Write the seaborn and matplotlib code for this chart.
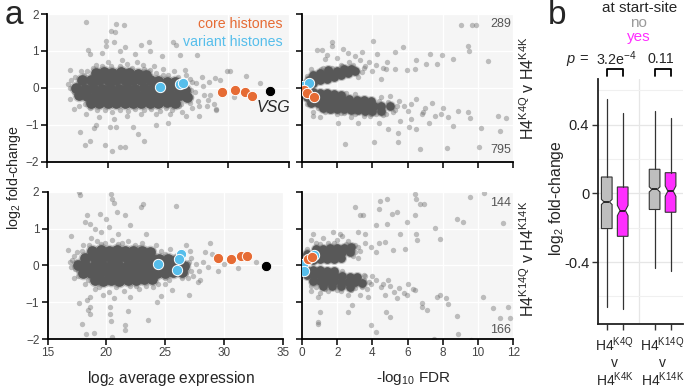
import matplotlib
matplotlib.use("Agg")
import matplotlib.pyplot as plt
import numpy as np
import pandas as pd
import seaborn as sns

# ------------------------------------------------------------------ data
# Panel a, top-left: MA plot, H4K4Q v H4K4K  (x = log2 avg expression, y = log2 FC)
ma1_core = [(19.0,0.4),(19.7,0.42),(20.4,0.4),(21.1,0.42),(21.8,0.4),(22.5,0.38),(23.2,0.36),
            (17.9,0.2),(18.6,0.22),(19.3,0.2),(20.0,0.22),(20.7,0.2),(21.4,0.22),(22.1,0.2),(22.8,0.2),
            (23.5,0.2),(24.2,0.18),(24.9,0.16),(25.6,0.15),
            (17.4,0.0),(18.1,-0.02),(18.8,0.0),(19.5,-0.02),(20.2,0.0),(20.9,-0.02),(21.6,0.0),(22.3,-0.02),
            (23.0,0.0),(23.7,-0.02),(24.4,0.0),(25.1,-0.02),(25.8,0.0),(26.4,-0.05),
            (17.6,-0.2),(18.3,-0.22),(19.0,-0.2),(19.7,-0.22),(20.4,-0.2),(21.1,-0.22),(21.8,-0.2),(22.5,-0.22),
            (23.2,-0.2),(23.9,-0.22),(24.6,-0.2),(25.3,-0.22),(26.0,-0.2),(26.6,-0.25),
            (18.6,-0.4),(19.3,-0.42),(20.0,-0.4),(20.7,-0.42),(21.4,-0.4),(22.1,-0.42),(22.8,-0.4),(23.5,-0.42),
            (24.2,-0.4),(24.9,-0.38),(25.6,-0.4)]
ma1_pts = [(26.8,0.25),(27.2,-0.1),(27.5,-0.35),(27.9,0.05),(28.2,-0.5),(28.5,-0.2),(28.8,-0.45),(27.0,-0.55),
           (26.5,0.35),(27.8,0.3),(28.4,0.15),(29.0,-0.6),(26.2,-0.65),(25.5,0.45),(24.6,0.5),(23.8,0.6),
           (22.4,0.7),(21.2,0.75),(20.0,0.7),(18.8,0.55),(17.8,0.45),(17.0,0.2),(16.9,0.47),(16.7,0.1),
           (16.9,-0.3),(17.2,-0.57),(17.6,-0.5),(18.2,-0.7),(19.3,-0.8),(20.5,-0.85),(21.6,-0.75),(22.8,-0.7),
           (24.0,-0.7),(25.2,-0.72),(26.5,-0.75),(27.6,-0.75),(28.3,-0.34),(29.0,-0.57),(29.3,0.2),(28.9,0.26),
           (29.86,0.45),(30.1,0.45),(31.5,0.31),(32.6,0.13),(26.4,0.47),(30.5,-0.25),(29.6,-0.1),
           (19.5,0.6),(21.0,0.6),(22.0,0.55),(23.0,0.5),(24.0,0.4),(25.0,0.35),(18.0,0.35),(18.5,-0.55),
           (19.8,-0.6),(21.0,-0.6),(22.3,-0.58),(23.6,-0.58),(24.8,-0.55),(25.9,-0.5),(26.8,-0.4),(27.3,0.12),
           (26.9,-0.05),
           (17.3,0.3),(18.3,0.45),(19.0,0.62),(20.3,0.58),(21.6,0.65),(22.9,0.62),(23.5,0.48),(24.6,0.35),
           (25.8,0.3),(26.2,0.1),(26.9,-0.25),(26.1,-0.45),(25.3,-0.6),(24.3,-0.62),(23.0,-0.6),(21.7,-0.62),
           (20.4,-0.65),(19.1,-0.6),(18.1,-0.45),(17.2,-0.12),(16.9,0.0),(27.6,-0.5),(28.0,-0.2),(27.0,0.15),
           (18.2,1.78),(20.69,1.72),(21.35,1.69),(20.28,1.53),(20.6,1.5),(18.4,1.03),(18.5,0.92),(19.9,1.28),
           (19.9,1.12),(23.4,1.24),(25.4,1.24),(25.7,1.15),(27.4,0.90),(22.3,0.92),(21.4,1.1),(17.7,-1.2),
           (18.1,-1.54),(18.5,-1.43),(19.8,-1.54),(20.4,-1.70),(21.0,-1.59),(21.4,-1.59),(23.0,-1.45),
           (20.7,-1.07),(22.1,-1.07),(20.2,-1.05),(19.0,-1.0),(23.5,1.0),(21.0,1.0),(24.5,0.85),(26.0,0.9),
           (19.5,0.95),(22.8,1.15),(20.5,1.25),(18.9,-1.1),(24.0,-1.0),(25.0,-0.95),(22.5,-1.25)]
ma1_core_hist = [(29.44,-0.10),(30.54,-0.05),(31.42,-0.10),(31.92,-0.22)]
ma1_var_hist = [(24.34,0.01),(25.99,0.11),(26.27,0.14)]
ma1_vsg = [(33.49,-0.08)]

# Panel a, top-right: volcano, H4K4Q v H4K4K (x = -log10 FDR)
v1_core = [(0.2,0.1),(0.4,0.22),(0.6,0.12),(0.8,0.3),(1.0,0.2),(1.2,0.35),(1.4,0.25),(1.6,0.4),(1.8,0.3),
           (2.0,0.45),(2.2,0.35),(2.4,0.5),(2.6,0.4),(2.8,0.52),(3.0,0.45),(0.6,0.34),(1.0,0.4),(1.5,0.47),
           (0.2,-0.12),(0.6,-0.12),(1.0,-0.14),(1.4,-0.15),(1.8,-0.17),(2.2,-0.19),
           (0.3,-0.25),(0.7,-0.26),(1.1,-0.27),(1.5,-0.28),(1.9,-0.29),(2.3,-0.3),(2.7,-0.3),(3.1,-0.32),
           (3.5,-0.33),(3.9,-0.35),
           (0.5,-0.4),(0.9,-0.4),(1.3,-0.42),(1.7,-0.42),(2.1,-0.43),(2.5,-0.44),(2.9,-0.45),(3.3,-0.46),
           (3.7,-0.47),(4.1,-0.48),(4.5,-0.48),(5.0,-0.5),
           (1.2,-0.55),(1.6,-0.56),(2.0,-0.57),(2.4,-0.58),(2.8,-0.6),(3.2,-0.6),(3.6,-0.62),(4.0,-0.62),
           (4.5,-0.62)]
v1_pts = [(5.5,-0.35),(5.8,-0.5),(6.2,-0.45),(6.0,-0.62),(5.3,-0.6),(4.8,-0.7),(4.2,-0.72),(3.5,-0.75),
          (2.8,-0.78),(2.0,-0.72),(1.3,-0.65),(0.64,-0.75),(0.64,-0.65),(6.5,-0.3),(7.0,-0.55),(7.4,-0.42),
          (6.8,-0.7),(1.0,-0.8),(4.5,-0.25),(5.0,-0.22),(3.0,-0.62),(2.2,-0.68),
          (3.5,0.55),(3.8,0.7),(4.2,0.62),(4.6,0.55),(3.3,0.75),(2.7,0.7),(2.2,0.62),(1.7,0.55),(4.0,0.45),
          (4.8,0.5),(5.3,0.52),(5.95,0.47),(4.5,0.25),(3.2,0.3),(0.5,0.5),(1.2,0.55),(2.0,0.8),(1.3,0.78),
          (3.4,0.42),(3.6,0.6),(2.9,0.62),(2.3,0.6),(1.1,0.5),(0.3,0.32),(4.4,-0.35),(4.9,-0.38),(5.4,-0.48),
          (5.2,-0.65),(4.6,-0.73),(3.9,-0.72),(3.0,-0.72),(2.4,-0.68),(1.7,-0.62),(0.9,-0.55),(0.3,-0.45),
          (3.0,-0.18),(2.5,-0.15),
          (1.69,1.25),(1.69,1.14),(2.35,1.06),(1.12,1.02),(0.85,1.02),(4.05,1.27),(3.39,0.97),(4.24,0.93),
          (4.81,0.70),(5.28,0.97),(5.76,1.11),(6.42,0.52),(7.08,0.65),(7.27,0.93),(7.65,0.65),(7.94,0.88),
          (9.07,1.70),(9.64,1.70),(9.89,1.70),(9.45,1.14),(9.49,0.99),(10.59,0.72),(8.6,0.79),(6.5,0.75),
          (3.0,0.85),(2.6,0.95),(1.4,0.9),
          (2.44,-1.51),(4.09,-1.48),(5.44,-1.48),(6.7,-1.65),(8.26,-1.64),(10.08,-1.59),(11.25,-1.18),
          (10.17,-1.10),(11.63,-0.82),(11.12,-0.75),(9.58,-0.82),(9.45,-0.65),(8.88,-0.62),(8.6,-1.03),
          (8.31,-0.8),(7.56,-0.75),(6.89,-0.66),(6.5,-1.12),(6.1,-1.05),(4.9,-1.12),(5.47,-1.21),(2.06,-0.94),
          (3.2,-0.94),(3.86,-0.75),(7.9,-0.72),(8.0,-0.55),(6.2,-0.85),(5.6,-0.9),(7.2,-0.95),(4.4,-0.95)]
v1_core_hist = [(0.11,-0.06),(0.30,-0.13),(0.70,-0.24)]
v1_var_hist = [(0.08,0.05),(0.42,0.13)]

# Panel a, bottom-left: MA plot, H4K14Q v H4K14K
ma2_core = [(18.8,0.4),(19.5,0.42),(20.2,0.4),(20.9,0.42),(21.6,0.4),(22.3,0.4),(23.0,0.38),(23.7,0.36),
            (18.2,0.2),(18.9,0.22),(19.6,0.2),(20.3,0.22),(21.0,0.2),(21.7,0.22),(22.4,0.2),(23.1,0.2),
            (23.8,0.2),(24.5,0.18),(25.2,0.16),(25.9,0.14),
            (17.6,0.0),(18.3,-0.02),(19.0,0.0),(19.7,-0.02),(20.4,0.0),(21.1,-0.02),(21.8,0.0),(22.5,-0.02),
            (23.2,0.0),(23.9,-0.02),(24.6,0.0),(25.3,-0.02),(26.0,0.0),(26.6,-0.02),
            (18.0,-0.2),(18.7,-0.22),(19.4,-0.2),(20.1,-0.22),(20.8,-0.2),(21.5,-0.22),(22.2,-0.2),(22.9,-0.22),
            (23.6,-0.2),(24.3,-0.2),(25.0,-0.2),(25.7,-0.18),(26.4,-0.18),
            (19.0,-0.4),(19.7,-0.42),(20.4,-0.4),(21.1,-0.42),(21.8,-0.4),(22.5,-0.4),(23.2,-0.38),(23.9,-0.36)]
ma2_pts = [(17.0,-0.05),(17.3,-0.1),(16.9,0.1),(17.2,0.25),(17.5,0.35),(18.0,0.55),(19.2,0.65),(20.5,0.68),
           (21.8,0.66),(23.0,0.6),(24.2,0.55),(25.4,0.45),(26.5,0.35),(27.2,0.2),(27.6,0.05),(27.9,-0.15),
           (28.2,0.1),(28.6,-0.05),(29.0,0.3),(28.8,0.62),(26.8,0.54),(27.1,0.4),(26.9,-0.35),(27.4,-0.3),
           (28.0,-0.41),(27.06,-0.81),(25.55,-0.68),(24.65,-0.84),(25.0,-0.5),(24.0,-0.6),(22.8,-0.65),
           (21.5,-0.7),(20.2,-0.72),(19.0,-0.65),(18.2,-0.5),(17.6,-0.3),(17.2,-0.35),(31.2,-0.06),(32.7,0.09),
           (30.0,0.05),(29.5,-0.15),(16.76,0.41),(17.04,0.14),(19.7,-0.81),(18.6,-0.85),(20.6,-0.9),
           (22.0,-0.85),(23.4,0.85),(21.0,0.85),(19.5,0.9),(18.7,0.75),(22.5,-0.55),
           (19.5,0.58),(21.0,0.58),(22.4,0.55),(24.6,0.4),(26.4,0.2),(26.9,0.05),(26.8,-0.2),(25.3,-0.4),
           (17.4,0.1),(17.9,0.4),(18.5,0.55),(19.9,0.6),(21.3,0.62),(22.8,0.5),(24.0,0.42),(25.0,0.32),
           (26.0,0.28),(27.0,0.1),(27.2,-0.15),(26.4,-0.35),(25.0,-0.35),(24.4,-0.5),(23.4,-0.55),(22.0,-0.55),
           (20.8,-0.6),(19.4,-0.58),(18.4,-0.4),(17.6,-0.15),(28.4,0.35),(27.8,-0.45),
           (17.7,1.99),(17.75,1.90),(20.36,1.95),(20.45,1.81),(20.6,1.7),(18.38,1.38),(18.18,1.19),(18.6,1.13),
           (19.45,1.40),(20.0,1.27),(20.9,1.45),(21.6,1.36),(23.14,1.67),(22.9,1.58),(25.9,1.6),(16.96,0.81),
           (17.67,-1.01),(18.38,-0.93),(18.6,-1.13),(18.6,-1.31),(17.9,-1.60),(18.26,-1.86),(18.94,-1.83),
           (20.3,-1.13),(20.3,-1.31),(20.5,-1.95),(21.58,-1.61),(21.58,-1.76),(21.87,-1.25),(23.57,-1.49),
           (20.2,1.05),(22.0,1.1),(19.0,1.0),(20.4,-1.5),(18.4,-1.2),(26.3,0.35),(24.3,-1.0)]
ma2_core_hist = [(29.52,0.20),(30.60,0.17),(31.43,0.26),(31.94,0.26)]
ma2_var_hist = [(24.36,0.05),(26.32,0.30),(26.20,0.16),(25.98,-0.12)]
ma2_vsg = [(33.55,-0.03)]

# Panel a, bottom-right: volcano, H4K14Q v H4K14K
v2_core = [(0.2,0.15),(0.6,0.15),(1.0,0.16),(1.4,0.17),(1.8,0.18),(2.2,0.2),
           (0.3,0.3),(0.7,0.3),(1.1,0.31),(1.5,0.32),(1.9,0.33),(2.3,0.35),(2.7,0.36),
           (0.8,0.45),(1.2,0.45),(1.6,0.46),(2.0,0.47),(2.4,0.48),(2.8,0.5),
           (0.2,-0.12),(0.6,-0.12),(1.0,-0.13),(1.4,-0.14),(1.8,-0.15),
           (0.3,-0.27),(0.7,-0.27),(1.1,-0.28),(1.5,-0.28),(1.9,-0.29),(2.3,-0.3),(2.7,-0.31),(3.1,-0.32),
           (0.6,-0.42),(1.0,-0.42),(1.4,-0.43),(1.8,-0.43),(2.2,-0.44),(2.6,-0.45),(3.0,-0.46),(3.4,-0.47),
           (1.2,-0.55),(1.7,-0.56),(2.2,-0.57),(2.7,-0.58)]
v2_pts = [(3.0,0.55),(3.3,0.4),(3.6,0.6),(2.6,0.65),(2.0,0.68),(1.5,0.62),(0.8,0.6),(3.9,0.5),(4.2,0.35),
          (4.4,0.6),(2.9,0.25),(3.2,0.2),(1.2,0.75),(2.3,0.8),(0.5,0.7),
          (3.6,-0.3),(3.9,-0.5),(4.2,-0.4),(4.5,-0.6),(3.7,-0.65),(3.0,-0.62),(2.2,-0.7),(1.5,-0.7),
          (0.8,-0.6),(5.0,-0.55),(5.5,-0.62),(6.0,-0.5),(6.3,-0.65),(5.2,-0.72),(4.7,-0.8),(0.5,-0.7),
          (1.0,-0.75),(2.6,-0.8),(3.3,-0.8),(4.0,-0.3),(5.8,-0.75),(0.93,-0.85),
          (3.2,0.5),(3.0,0.35),(2.5,0.58),(1.8,0.6),(1.0,0.58),(0.3,0.45),(3.5,-0.4),(3.8,-0.45),(3.4,-0.6),
          (2.8,-0.68),(2.0,-0.66),(1.3,-0.65),(0.5,-0.55),(2.3,-0.15),(3.5,-0.25),
          (3.01,1.58),(3.3,1.36),(3.45,1.36),(4.43,1.76),(4.81,1.81),(4.39,1.54),(5.38,1.45),(5.1,1.4),
          (6.42,1.93),(6.5,1.81),(6.7,1.67),(6.93,1.67),(6.42,1.36),(9.55,1.86),(10.34,1.97),(8.79,1.25),
          (9.13,1.18),(11.4,1.16),(7.56,1.01),(7.84,0.72),(6.46,0.86),(6.52,0.70),(5.95,1.18),(5.57,0.86),
          (4.19,1.09),(4.81,1.13),(3.58,0.86),(3.2,0.9),(2.16,0.86),(1.78,0.9),(5.85,0.45),(5.19,0.41),
          (4.72,0.63),(0.64,0.86),
          (1.02,-1.27),(0.93,-1.54),(0.9,-1.6),(3.9,-1.63),(4.2,-1.81),(4.77,-1.27),(5.0,-1.40),(7.52,-1.99),
          (8.84,-1.87),(9.6,-2.04),(8.79,-1.38),(6.8,-1.13),(7.08,-1.22),(6.8,-1.03),(8.31,-1.04),
          (8.18,-0.9),(7.84,-0.81),(7.65,-0.86),(10.3,-0.86),(10.87,-1.15),(11.25,-1.43),(11.72,-1.13),
          (11.8,-1.43),(5.38,-0.9),(5.95,-0.81),(6.42,-0.68),(4.62,-0.5),(4.9,-0.41),(3.77,-0.86),
          (2.82,-1.09),(2.63,-1.27)]
v2_core_hist = [(0.36,0.16),(0.59,0.24)]
v2_var_hist = [(0.70,0.27),(0.07,0.05),(0.11,-0.14)]

# Panel b: box statistics of log2 fold-change at start-site no / yes
b_groups = ["H4K4Q v H4K4K", "H4K4Q v H4K4K", "H4K14Q v H4K14K", "H4K14Q v H4K14K"]
b_startsite = ["no", "yes", "no", "yes"]
b_whislo = [-0.66, -0.67, -0.437, -0.45]
b_q1 = [-0.205, -0.25, -0.094, -0.11]
b_med = [-0.05, -0.10, 0.023, 0.013]
b_q3 = [0.095, 0.037, 0.14, 0.12]
b_whishi = [0.55, 0.47, 0.48, 0.44]
b_cilo = [-0.065, -0.13, 0.008, -0.017]
b_cihi = [-0.035, -0.07, 0.038, 0.043]
b_pvalues = ["3.2e$^{-4}$", "0.11"]

# ------------------------------------------------------------------ style
sns.set_theme(style="ticks")
plt.rcParams["font.family"] = ["Liberation Sans", "DejaVu Sans"]
plt.rcParams["mathtext.default"] = "regular"

ORANGE = "#E66B34"
BLUE = "#56BEEB"
MAGENTA = "#FF2EFF"
GREYBOX = "#BEBEBE"
BG = "#F5F5F5"

W, H = 685, 390
fig = plt.figure(figsize=(W / 100, H / 100), dpi=100)


def box(x0, y0, x1, y1):
    return [x0 / W, 1 - y1 / H, (x1 - x0) / W, (y1 - y0) / H]


def ftext(x, y, s, **kw):
    kw.setdefault("ha", "center")
    kw.setdefault("va", "center")
    fig.text(x / W, 1 - y / H, s, **kw)


def df(pairs):
    return pd.DataFrame(pairs, columns=["x", "y"])


def draw_panel(ax, core, pts, core_hist, var_hist, vsg=None, core_size=60):
    sns.scatterplot(data=df(pts), x="x", y="y", ax=ax, color="#6e6e6e", s=15, alpha=0.42,
                    linewidth=0, legend=False)
    sns.scatterplot(data=df(core), x="x", y="y", ax=ax, color="#6a6a6a", s=core_size * 1.6,
                    alpha=0.35, linewidth=0, legend=False)
    sns.scatterplot(data=df(core), x="x", y="y", ax=ax, color="#585858", s=core_size,
                    alpha=1.0, linewidth=0, legend=False)
    if vsg is not None:
        sns.scatterplot(data=df(vsg), x="x", y="y", ax=ax, color="black", s=55,
                        edgecolor="white", linewidth=0.6, legend=False, zorder=5)
    sns.scatterplot(data=df(var_hist), x="x", y="y", ax=ax, color=BLUE, s=55,
                    edgecolor="white", linewidth=0.7, legend=False, zorder=5)
    sns.scatterplot(data=df(core_hist), x="x", y="y", ax=ax, color=ORANGE, s=55,
                    edgecolor="white", linewidth=0.7, legend=False, zorder=6)


def style_a(ax, xlim, xticks, xlabels, ylabels):
    ax.set_facecolor(BG)
    ax.set_xlim(*xlim)
    ax.set_ylim(-2, 2)
    ax.set_xticks(xticks)
    ax.set_yticks([-2, -1, 0, 1, 2])
    if not xlabels:
        ax.set_xticklabels([])
    if not ylabels:
        ax.set_yticklabels([])
    ax.grid(True, color="white", lw=1.0)
    ax.set_axisbelow(True)
    for s in ("top", "right"):
        ax.spines[s].set_visible(False)
    for s in ("left", "bottom"):
        ax.spines[s].set_color("black")
        ax.spines[s].set_linewidth(1.3)
    ax.tick_params(length=4, width=1.1, color="black", labelsize=8.5, labelcolor="#444", pad=2)
    ax.set_xlabel("")
    ax.set_ylabel("")


ax_tl = fig.add_axes(box(47.3, 14, 288.7, 161.7))
ax_tr = fig.add_axes(box(302, 14, 513, 161.7))
ax_bl = fig.add_axes(box(47.7, 191.7, 282.7, 339))
ax_br = fig.add_axes(box(302, 191.7, 513.3, 339))

draw_panel(ax_tl, ma1_core, ma1_pts, ma1_core_hist, ma1_var_hist, ma1_vsg)
draw_panel(ax_tr, v1_core, v1_pts, v1_core_hist, v1_var_hist, core_size=40)
draw_panel(ax_bl, ma2_core, ma2_pts, ma2_core_hist, ma2_var_hist, ma2_vsg)
draw_panel(ax_br, v2_core, v2_pts, v2_core_hist, v2_var_hist, core_size=40)

style_a(ax_tl, (15, 35), [15, 20, 25, 30, 35], False, True)
style_a(ax_tr, (0, 12), [0, 2, 4, 6, 8, 10, 12], False, False)
style_a(ax_bl, (15, 35), [15, 20, 25, 30, 35], True, True)
style_a(ax_br, (0, 12), [0, 2, 4, 6, 8, 10, 12], True, False)

# panel a annotations
ftext(14, 15, "a", fontsize=24)
ftext(283, 24, "core histones", color=ORANGE, ha="right", fontsize=10.2)
ftext(283, 41.5, "variant histones", color=BLUE, ha="right", fontsize=10.2)
ftext(290, 108, "VSG", style="italic", ha="right", fontsize=11.5)
ftext(511, 24, "289", ha="right", color="#555", fontsize=9)
ftext(511, 150.5, "795", ha="right", color="#555", fontsize=9)
ftext(511, 202.5, "144", ha="right", color="#555", fontsize=9)
ftext(511, 330, "166", ha="right", color="#555", fontsize=9)
ftext(528, 88.5, "H4$^{K4Q}$ v H4$^{K4K}$", rotation=90, fontsize=11.5)
ftext(528, 259, "H4$^{K14Q}$ v H4$^{K14K}$", rotation=90, fontsize=11.5)
ftext(14, 178, "log$_2$ fold-change", rotation=90, fontsize=10.3)
ftext(171, 378, "log$_2$ average expression", fontsize=11.2)
ftext(413, 378, "-log$_{10}$ FDR", fontsize=11)

# ------------------------------------------------------------------ panel b
axb = fig.add_axes(box(597.5, 79, 683, 324))
b_pos = [1, 2, 4, 5]
stats = []
for i in range(4):
    stats.append(dict(med=b_med[i], q1=b_q1[i], q3=b_q3[i], whislo=b_whislo[i], whishi=b_whishi[i],
                      cilo=b_cilo[i], cihi=b_cihi[i], fliers=[]))
bp = axb.bxp(stats, positions=b_pos, widths=0.67, shownotches=True, showcaps=False, showfliers=False,
             patch_artist=True, manage_ticks=False,
             boxprops=dict(edgecolor="#333333", linewidth=0.8),
             whiskerprops=dict(color="#333333", linewidth=0.9),
             medianprops=dict(color="#111111", linewidth=1.2))
for patch, ss in zip(bp["boxes"], b_startsite):
    patch.set_facecolor(GREYBOX if ss == "no" else MAGENTA)

axb.set_xlim(0.42, 5.78)
axb.set_ylim(-0.76, 0.665)
axb.set_yticks([-0.4, 0, 0.4])
axb.set_yticklabels(["-0.4", "0", "0.4"])
axb.set_yticks([-0.6, -0.2, 0.2, 0.6], minor=True)
axb.set_xticks([3])
axb.set_xticklabels([""])
axb.set_xticks(b_pos, minor=True)
axb.set_xticklabels([""] * 4, minor=True)
axb.tick_params(axis="x", which="major", length=0)
axb.tick_params(axis="x", which="minor", length=4, width=1.0, color="#333")
axb.tick_params(axis="y", which="minor", length=0)
axb.tick_params(axis="y", which="major", length=4, width=1.0, color="#333", labelsize=10.5,
                labelcolor="#222", pad=2)
axb.grid(True, which="major", color="#E6E6E6", lw=0.9)
axb.grid(True, which="minor", axis="y", color="#F0F0F0", lw=0.8)
axb.set_axisbelow(True)
for s in ("top", "right"):
    axb.spines[s].set_visible(False)
for s in ("left", "bottom"):
    axb.spines[s].set_color("#222")
    axb.spines[s].set_linewidth(1.3)

# significance brackets
for (a, b_) in [(1, 2), (4, 5)]:
    axb.plot([a, a, b_, b_], [0.682, 0.721, 0.721, 0.682], color="black", lw=1.3, clip_on=False)

ftext(557, 15, "b", fontsize=24)
ftext(639.5, 8, "at start-site", fontsize=11)
ftext(638.5, 23, "no", color="#9a9a9a", fontsize=11)
ftext(639, 37, "yes", color=MAGENTA, fontsize=11)
ftext(570, 59, "p", style="italic", fontsize=10.5)
ftext(584, 59, "=", fontsize=10.5)
ftext(617, 59, b_pvalues[0], fontsize=10.3)
ftext(661, 59, b_pvalues[1], fontsize=10.3)
ftext(557, 198, "log$_2$ fold-change", rotation=90, fontsize=11.3)
for cx, top, bot in [(614.7, "H4$^{K4Q}$", "H4$^{K4K}$"), (662.5, "H4$^{K14Q}$", "H4$^{K14K}$")]:
    ftext(cx, 345, top, fontsize=10)
    ftext(cx, 363, "v", fontsize=10)
    ftext(cx, 380, bot, fontsize=10)

fig.savefig("out.png", dpi=100)
